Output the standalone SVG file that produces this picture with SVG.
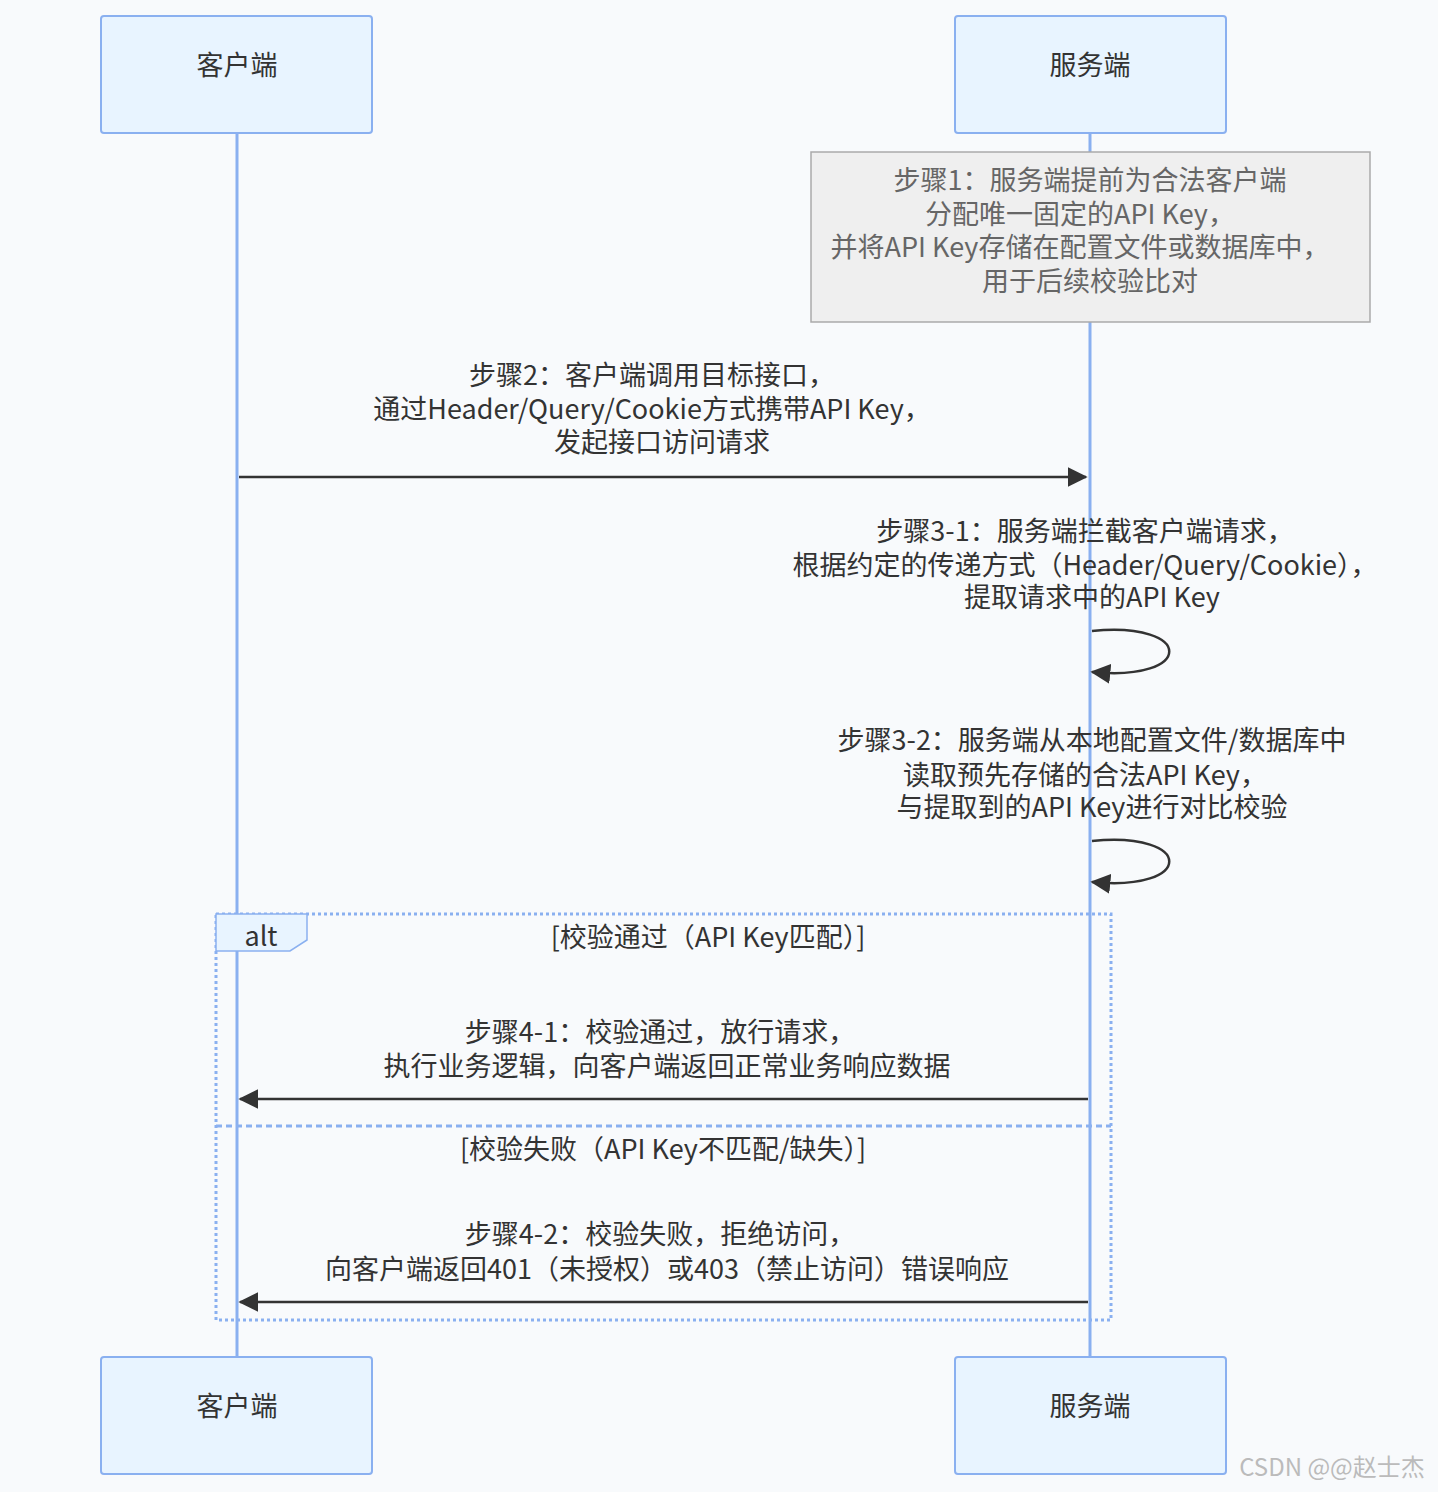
<svg xmlns="http://www.w3.org/2000/svg" width="1438" height="1492" viewBox="0 0 1438 1492">
<style>
text{font-family:"Noto Sans CJK SC","Noto Sans",sans-serif;font-size:27px;fill:#333;text-anchor:middle}
.actor rect{fill:#e8f4ff;stroke:#8ab0f0;stroke-width:2}
.life{stroke:#8ab0f0;stroke-width:3}
.msg{stroke:#333;stroke-width:2.5;fill:none}
.note text{fill:#666}
</style>
<defs><marker id="ah" viewBox="0 0 12 12" refX="11" refY="6" markerWidth="20" markerHeight="20" markerUnits="userSpaceOnUse" orient="auto"><path d="M0,0L12,6L0,12z" fill="#333"/></marker></defs>
<rect width="1438" height="1492" fill="#f8fafc"/>
<g id="lifelines"><line class="life" x1="237" y1="133" x2="237" y2="1357"/><line class="life" x1="1090" y1="133" x2="1090" y2="1357"/></g>
<g id="client-top" class="actor"><rect x="101" y="16" width="271" height="117" rx="3"/><text x="237" y="75">客户端</text></g>
<g id="server-top" class="actor"><rect x="955" y="16" width="271" height="117" rx="3"/><text x="1090" y="75">服务端</text></g>
<g id="client-bot" class="actor"><rect x="101" y="1357" width="271" height="117" rx="3"/><text x="237" y="1416">客户端</text></g>
<g id="server-bot" class="actor"><rect x="955" y="1357" width="271" height="117" rx="3"/><text x="1090" y="1416">服务端</text></g>
<g id="note1" class="note"><rect x="811" y="152" width="559" height="170" fill="#efefef" stroke="#aaa" stroke-width="1.5"/>
<text x="1090" y="190">步骤1：服务端提前为合法客户端</text><text x="1080" y="224">分配唯一固定的API Key，</text><text x="1080" y="257">并将API Key存储在配置文件或数据库中，</text><text x="1090" y="291">用于后续校验比对</text></g>
<g id="frame"><rect x="216" y="914" width="895" height="406" fill="none" stroke="#8ab0f0" stroke-width="3" stroke-dasharray="3,3"/>
<polygon points="216,914 307,914 307,940 290,951 216,951" fill="#e8f4ff" stroke="#8ab0f0" stroke-width="1.5"/>
<text x="261" y="946">alt</text>
<text x="708" y="947">[校验通过（API Key匹配）]</text>
<line x1="216" y1="1126" x2="1111" y2="1126" stroke="#8ab0f0" stroke-width="3" stroke-dasharray="6,4"/>
<text x="663" y="1159">[校验失败（API Key不匹配/缺失）]</text></g>
<g id="connectors">
<text x="652" y="385">步骤2：客户端调用目标接口，</text><text x="652" y="419">通过Header/Query/Cookie方式携带API Key，</text><text x="662" y="452">发起接口访问请求</text>
<line class="msg" x1="239" y1="477" x2="1086" y2="477" marker-end="url(#ah)"/>
<text x="1085" y="541">步骤3-1：服务端拦截客户端请求，</text><text x="1085" y="575">根据约定的传递方式（Header/Query/Cookie），</text><text x="1092" y="607">提取请求中的API Key</text>
<path class="msg" d="M1092,631 C1195,621 1195,682 1092,672" marker-end="url(#ah)"/>
<text x="1092" y="750">步骤3-2：服务端从本地配置文件/数据库中</text><text x="1085" y="785">读取预先存储的合法API Key，</text><text x="1092" y="817">与提取到的API Key进行对比校验</text>
<path class="msg" d="M1092,841 C1195,831 1195,892 1092,882" marker-end="url(#ah)"/>
<text x="660" y="1042">步骤4-1：校验通过，放行请求，</text><text x="667" y="1076">执行业务逻辑，向客户端返回正常业务响应数据</text>
<line class="msg" x1="1088" y1="1099" x2="240" y2="1099" marker-end="url(#ah)"/>
<text x="660" y="1244">步骤4-2：校验失败，拒绝访问，</text><text x="667" y="1279">向客户端返回401（未授权）或403（禁止访问）错误响应</text>
<line class="msg" x1="1088" y1="1302" x2="240" y2="1302" marker-end="url(#ah)"/>
</g>
<text x="1332" y="1476" style="fill:#bbb;font-size:24px">CSDN @@赵士杰</text>
</svg>
